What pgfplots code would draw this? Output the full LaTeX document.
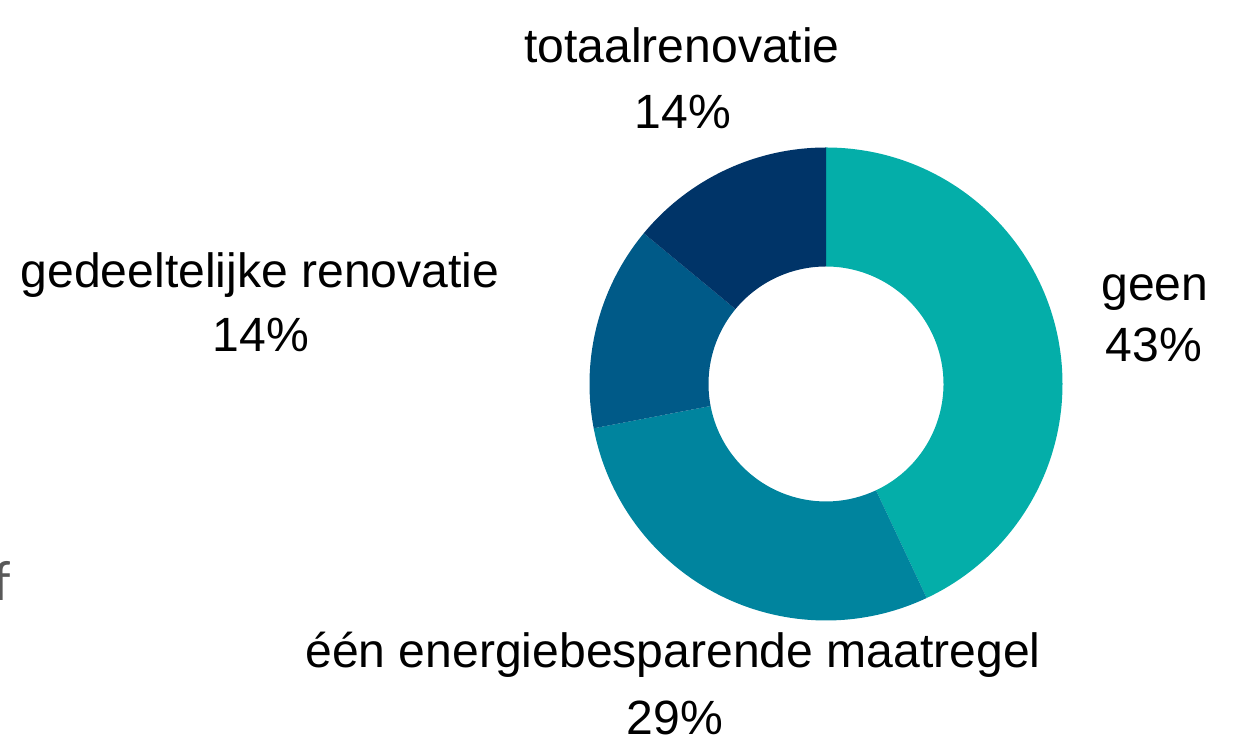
\documentclass[border=0pt]{standalone}
\usepackage{pgfplots}
\pgfplotsset{compat=1.18}
\usepackage{pgfplotstable}
\usepackage{fontspec}
\setmainfont{Liberation Sans}
\newfontfamily\ffont{Carlito}

\definecolor{cgeen}{RGB}{4,174,169}
\definecolor{ceen}{RGB}{0,132,158}
\definecolor{cgedeel}{RGB}{0,90,136}
\definecolor{ctotaal}{RGB}{0,52,104}

\pgfplotstableread{
idx value
0 43
1 29
2 14
3 14
}\slices

\pgfplotstablegetelem{0}{value}\of\slices \let\vA\pgfplotsretval
\pgfplotstablegetelem{1}{value}\of\slices \let\vB\pgfplotsretval
\pgfplotstablegetelem{2}{value}\of\slices \let\vC\pgfplotsretval
\pgfplotstablegetelem{3}{value}\of\slices \let\vD\pgfplotsretval

\pgfmathsetmacro\sA{0}
\pgfmathsetmacro\sB{\vA}
\pgfmathsetmacro\sC{\vA+\vB}
\pgfmathsetmacro\sD{\vA+\vB+\vC}

\def\Ro{118.25pt}
\def\Ri{58.75pt}

\newcommand\slice[3]{%
  \pgfmathsetmacro\angA{90-3.6*#1}%
  \pgfmathsetmacro\angB{90-3.6*(#1+#2)}%
  \edef\temp{\noexpand\fill[#3] ([shift={(\angA:\Ro)}]axis cs:826,354) arc[start angle=\angA, end angle=\angB, radius=\Ro] -- ([shift={(\angB:\Ri)}]axis cs:826,354) arc[start angle=\angB, end angle=\angA, radius=\Ri] -- cycle;}%
  \temp
}

\begin{document}
\begin{tikzpicture}
\begin{axis}[x=0.5pt, y=0.5pt, xmin=0, xmax=1239, ymin=0, ymax=738,
  hide axis, clip=false, anchor=south west, at={(0,0)}]
\slice{\sA}{\vA}{cgeen}
\slice{\sB}{\vB}{ceen}
\slice{\sC}{\vC}{cgedeel}
\slice{\sD}{\vD}{ctotaal}

\tikzset{lbl/.style={anchor=base, inner sep=0pt, font=\fontsize{24.05}{30}\selectfont}}
\node[lbl] at (axis cs:682,675) {totaalrenovatie};
\node[lbl] at (axis cs:683,609) {14\%};
\node[lbl] at (axis cs:260,450) {gedeeltelijke renovatie};
\node[lbl] at (axis cs:261,386) {14\%};
\node[lbl] at (axis cs:1155,437) {geen};
\node[lbl] at (axis cs:1154,376) {43\%};
\node[lbl] at (axis cs:673,70) {één energiebesparende maatregel};
\node[lbl] at (axis cs:675,3) {29\%};
\node[anchor=base west, inner sep=0pt, text=black!65, font=\ffont\fontsize{28.5}{32}\selectfont] at (axis cs:-7,137) {f};
\end{axis}
\pgfresetboundingbox
\path (0,0) rectangle (619.5pt,369pt);
\end{tikzpicture}
\end{document}
